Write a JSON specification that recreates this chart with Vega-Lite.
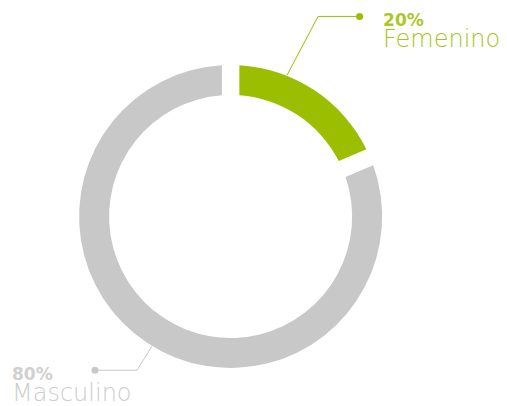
{
  "$schema": "https://vega.github.io/schema/vega-lite/v6.json",
  "width": 507,
  "height": 406,
  "autosize": {"type": "fit", "contains": "padding"},
  "padding": 0,
  "background": "#ffffff",
  "config": {"view": {"stroke": null}},
  "datasets": {
    "genero": [
      {"genero": "Femenino", "porcentaje": 18.6},
      {"genero": "Masculino", "porcentaje": 81.4}
    ],
    "guias": [
      {"genero": "Femenino", "punto": 1, "gx": 85.1, "gy": 132.7},
      {"genero": "Femenino", "punto": 2, "gx": 57.7, "gy": 132.7},
      {"genero": "Femenino", "punto": 3, "gx": 37.2, "gy": 93.7},
      {"genero": "Masculino", "punto": 1, "gx": -89.5, "gy": -102.0},
      {"genero": "Masculino", "punto": 2, "gx": -61.8, "gy": -102.0},
      {"genero": "Masculino", "punto": 3, "gx": -51.9, "gy": -86.1}
    ],
    "etiquetas": [
      {"genero": "Femenino", "texto": "20%", "clase": "valor", "gx": 100.6, "gy": 126.4},
      {"genero": "Femenino", "texto": "Femenino", "clase": "nombre", "gx": 100.6, "gy": 112.5},
      {"genero": "Masculino", "texto": "80%", "clase": "valor", "gx": -144.3, "gy": -108.6},
      {"genero": "Masculino", "texto": "Masculino", "clase": "nombre", "gx": -144.3, "gy": -122.4}
    ]
  },
  "layer": [
    {
      "data": {"name": "genero"},
      "mark": {
        "type": "arc",
        "padAngle": 0.09,
        "x": {"expr": "scale('x', 0)"},
        "y": {"expr": "scale('y', 0)"},
        "radius": {"expr": "scale('x', 100) - scale('x', 0)"},
        "radius2": {"expr": "scale('x', 80.2) - scale('x', 0)"}
      },
      "encoding": {
        "theta": {"field": "porcentaje", "type": "quantitative", "stack": true},
        "color": {
          "field": "genero",
          "type": "nominal",
          "scale": {"domain": ["Femenino", "Masculino"], "range": ["#9bbf00", "#c8c8c8"]},
          "legend": null
        }
      }
    },
    {
      "data": {"name": "guias"},
      "mark": {"type": "line", "strokeWidth": 1},
      "encoding": {
        "x": {"field": "gx", "type": "quantitative", "scale": {"domain": [-152.2, 182.4], "nice": false, "zero": false}, "axis": null},
        "y": {"field": "gy", "type": "quantitative", "scale": {"domain": [-124.4, 143.6], "nice": false, "zero": false}, "axis": null},
        "order": {"field": "punto", "type": "quantitative"},
        "detail": {"field": "genero", "type": "nominal"},
        "color": {"field": "genero", "type": "nominal", "legend": null}
      }
    },
    {
      "data": {"name": "guias"},
      "transform": [{"filter": "datum.punto == 1"}],
      "mark": {"type": "circle", "size": 50, "opacity": 1},
      "encoding": {
        "x": {"field": "gx", "type": "quantitative"},
        "y": {"field": "gy", "type": "quantitative"},
        "color": {"field": "genero", "type": "nominal", "legend": null}
      }
    },
    {
      "data": {"name": "etiquetas"},
      "transform": [{"filter": "datum.clase == 'valor'"}],
      "mark": {"type": "text", "align": "left", "baseline": "alphabetic", "font": "DejaVu Sans", "fontWeight": "bold", "fontSize": 17, "opacity": 0.85},
      "encoding": {
        "x": {"field": "gx", "type": "quantitative"},
        "y": {"field": "gy", "type": "quantitative"},
        "text": {"field": "texto", "type": "nominal"},
        "color": {"field": "genero", "type": "nominal", "legend": null}
      }
    },
    {
      "data": {"name": "etiquetas"},
      "transform": [{"filter": "datum.clase == 'nombre'"}],
      "mark": {"type": "text", "align": "left", "baseline": "alphabetic", "font": "DejaVu Sans", "fontWeight": 200, "fontSize": 24, "opacity": 0.9},
      "encoding": {
        "x": {"field": "gx", "type": "quantitative"},
        "y": {"field": "gy", "type": "quantitative"},
        "text": {"field": "texto", "type": "nominal"},
        "color": {"field": "genero", "type": "nominal", "legend": null}
      }
    }
  ]
}
